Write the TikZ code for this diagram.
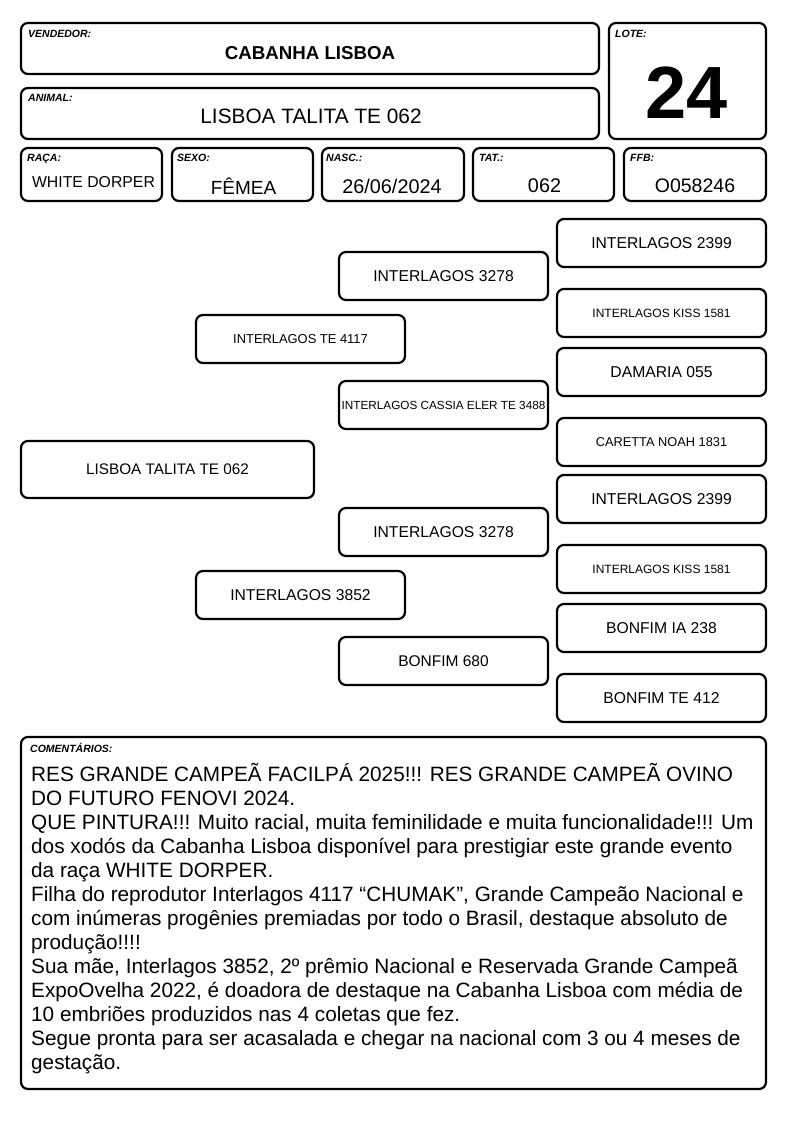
\documentclass[tikz,border=0pt]{standalone}
\usepackage{fontspec}
\setmainfont{Liberation Sans}
\begin{document}
\begin{tikzpicture}[x=1pt,y=-1pt,
  box/.style={draw, line width=2.2pt, rounded corners=7pt, inner sep=0pt, align=center},
  ped/.style={box, minimum width=209pt, minimum height=48pt},
  lbl/.style={anchor=north west, inner sep=0pt, font=\fontsize{10.5}{11}\selectfont\bfseries\itshape},
  val/.style={inner sep=0pt, anchor=center}]
\useasboundingbox (0,0) rectangle (794,1123);
% header boxes
\node[box, minimum width=578pt, minimum height=51pt] (vend) at (310,48.5) {};
\node[lbl] (vendl) at (28,30) {VENDEDOR:};
\node[val, font=\fontsize{18.7}{20}\selectfont\bfseries] (vendv) at (310,53) {CABANHA LISBOA};
\node[box, minimum width=578pt, minimum height=51pt] (anim) at (310,113.5) {};
\node[lbl] (animl) at (28,94) {ANIMAL:};
\node[val, font=\fontsize{20.8}{22}\selectfont] (animv) at (311,116) {LISBOA TALITA TE 062};
\node[box, minimum width=157pt, minimum height=116pt] (lote) at (687.5,81) {};
\node[lbl] (lotel) at (615,30) {LOTE:};
\node[val, font=\fontsize{74}{80}\selectfont\bfseries] (lotev) at (687,93) {24};
\node[box, minimum width=141pt, minimum height=53pt] (raca) at (91.5,174.5) {};
\node[lbl] (racal) at (27,154) {RAÇA:};
\node[val, font=\fontsize{15.8}{18}\selectfont] (racav) at (93.5,182) {WHITE DORPER};
\node[box, minimum width=141pt, minimum height=53pt] (sexo) at (242.5,174.5) {};
\node[lbl] (sexol) at (177,154) {SEXO:};
\node[val, font=\fontsize{19}{20}\selectfont] (sexov) at (243.5,186) {FÊMEA};
\node[box, minimum width=142pt, minimum height=53pt] (nasc) at (393,174.5) {};
\node[lbl] (nascl) at (326,154) {NASC.:};
\node[val, font=\fontsize{19.8}{20}\selectfont] (nascv) at (392,186) {26/06/2024};
\node[box, minimum width=141pt, minimum height=53pt] (tat) at (543.5,174.5) {};
\node[lbl] (tatl) at (479,154) {TAT.:};
\node[val, font=\fontsize{19.8}{20}\selectfont] (tatv) at (544.5,186) {062};
\node[box, minimum width=142pt, minimum height=53pt] (ffb) at (695,174.5) {};
\node[lbl] (ffbl) at (630,154) {FFB:};
\node[val, font=\fontsize{19.5}{20}\selectfont] (ffbv) at (695,186) {O058246};
% pedigree
\node[box, minimum width=293pt, minimum height=57pt, font=\fontsize{15.3}{16}\selectfont] (animal) at (167.5,469.5) {LISBOA TALITA TE 062};
\node[ped, font=\fontsize{12.9}{14}\selectfont] (pai) at (300.5,339) {INTERLAGOS TE 4117};
\node[ped, font=\fontsize{15.7}{16}\selectfont] (mae) at (300.5,595) {INTERLAGOS 3852};
\node[ped, font=\fontsize{15.7}{16}\selectfont] (pp) at (443.5,276) {INTERLAGOS 3278};
\node[ped, font=\fontsize{11.75}{13}\selectfont] (pm) at (443.5,405) {INTERLAGOS CASSIA ELER TE 3488};
\node[ped, font=\fontsize{15.7}{16}\selectfont] (mp) at (443.5,532) {INTERLAGOS 3278};
\node[ped, font=\fontsize{15.5}{16}\selectfont] (mm) at (443.5,661) {BONFIM 680};
\node[ped, font=\fontsize{15.7}{16}\selectfont] (ppp) at (661.5,243) {INTERLAGOS 2399};
\node[ped, font=\fontsize{12}{13}\selectfont] (ppm) at (661.5,313) {INTERLAGOS KISS 1581};
\node[ped, font=\fontsize{15.7}{16}\selectfont] (pmp) at (661.5,372) {DAMARIA 055};
\node[ped, font=\fontsize{12.8}{14}\selectfont] (pmm) at (661.5,442) {CARETTA NOAH 1831};
\node[ped, font=\fontsize{15.7}{16}\selectfont] (mpp) at (661.5,499) {INTERLAGOS 2399};
\node[ped, font=\fontsize{12}{13}\selectfont] (mpm) at (661.5,569) {INTERLAGOS KISS 1581};
\node[ped, font=\fontsize{15.7}{16}\selectfont] (mmp) at (661.5,628) {BONFIM IA 238};
\node[ped, font=\fontsize{15.7}{16}\selectfont] (mmm) at (661.5,698) {BONFIM TE 412};
% comments
\node[box, minimum width=745pt, minimum height=352pt] (coment) at (393.5,913) {};
\node[lbl] (comentl) at (30,743) {COMENTÁRIOS:};
\node[anchor=north west, inner sep=0pt, align=left, font=\fontsize{20.75}{24}\selectfont] (comentv) at (31,763) {RES GRANDE CAMPEÃ FACILPÁ 2025!!! RES GRANDE CAMPEÃ OVINO\\
DO FUTURO FENOVI 2024.\\
QUE PINTURA!!! Muito racial, muita feminilidade e muita funcionalidade!!! Um\\
dos xodós da Cabanha Lisboa disponível para prestigiar este grande evento\\
da raça WHITE DORPER.\\
Filha do reprodutor Interlagos 4117 “CHUMAK”, Grande Campeão Nacional e\\
com inúmeras progênies premiadas por todo o Brasil, destaque absoluto de\\
produção!!!!\\
Sua mãe, Interlagos 3852, 2º prêmio Nacional e Reservada Grande Campeã\\
ExpoOvelha 2022, é doadora de destaque na Cabanha Lisboa com média de\\
10 embriões produzidos nas 4 coletas que fez.\\
Segue pronta para ser acasalada e chegar na nacional com 3 ou 4 meses de\\
gestação.};
\end{tikzpicture}
\end{document}
